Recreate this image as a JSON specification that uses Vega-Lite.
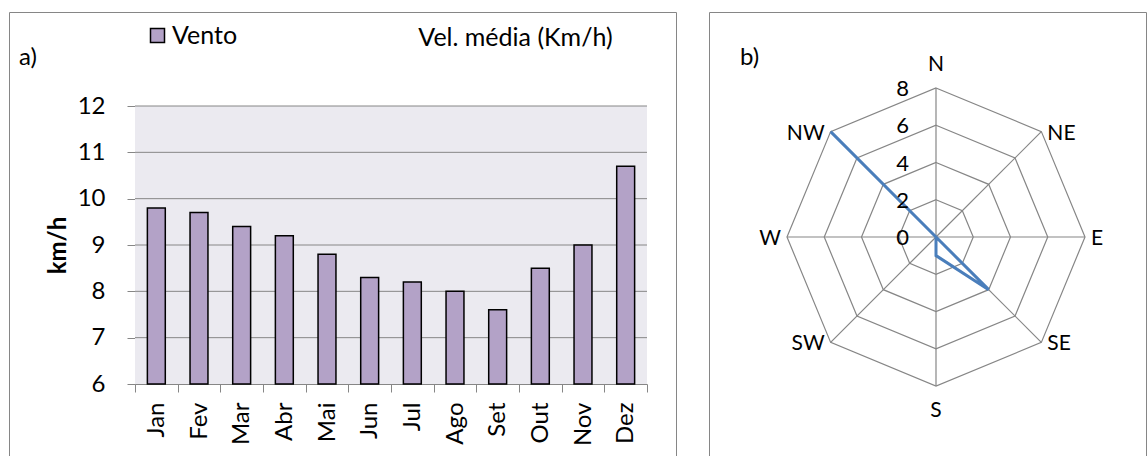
{
  "$schema": "https://vega.github.io/schema/vega-lite/v6.json",
  "padding": {"left": -4, "top": 11, "right": 0, "bottom": 0},
  "autosize": {"type": "pad"},
  "background": "white",
  "spacing": 33,
  "bounds": "flush",
  "config": {
    "font": "Lato",
    "view": {"stroke": "#868686", "strokeWidth": 1},
    "axis": {
      "labelFont": "Lato", "titleFont": "Lato",
      "labelColor": "#000", "titleColor": "#000",
      "labelFontSize": 24, "titleFontSize": 24,
      "domainColor": "#868686", "tickColor": "#868686", "gridColor": "#868686",
      "domainWidth": 1, "tickWidth": 1
    },
    "title": {"font": "Lato", "fontSize": 24, "fontWeight": "normal", "color": "#000"},
    "text": {"font": "Lato", "fontSize": 21, "color": "#000"}
  },
  "datasets": {
    "vento": [
      {"mes": "Jan", "vel": 9.8},
      {"mes": "Fev", "vel": 9.7},
      {"mes": "Mar", "vel": 9.4},
      {"mes": "Abr", "vel": 9.2},
      {"mes": "Mai", "vel": 8.8},
      {"mes": "Jun", "vel": 8.3},
      {"mes": "Jul", "vel": 8.2},
      {"mes": "Ago", "vel": 8.0},
      {"mes": "Set", "vel": 7.6},
      {"mes": "Out", "vel": 8.5},
      {"mes": "Nov", "vel": 9.0},
      {"mes": "Dez", "vel": 10.7}
    ],
    "linhas": [{"nivel": 7}, {"nivel": 8}, {"nivel": 9}, {"nivel": 10}, {"nivel": 11}, {"nivel": 12}],
    "rosa": [
      {"dir": "N", "graus": 0, "v": 0},
      {"dir": "NE", "graus": 45, "v": 0},
      {"dir": "E", "graus": 90, "v": 0},
      {"dir": "SE", "graus": 135, "v": 4},
      {"dir": "S", "graus": 180, "v": 1},
      {"dir": "SW", "graus": 225, "v": 0},
      {"dir": "W", "graus": 270, "v": 0},
      {"dir": "NW", "graus": 315, "v": 8}
    ],
    "grade": [
      {"dir": "N", "graus": 0, "nivel": [2, 4, 6, 8]},
      {"dir": "NE", "graus": 45, "nivel": [2, 4, 6, 8]},
      {"dir": "E", "graus": 90, "nivel": [2, 4, 6, 8]},
      {"dir": "SE", "graus": 135, "nivel": [2, 4, 6, 8]},
      {"dir": "S", "graus": 180, "nivel": [2, 4, 6, 8]},
      {"dir": "SW", "graus": 225, "nivel": [2, 4, 6, 8]},
      {"dir": "W", "graus": 270, "nivel": [2, 4, 6, 8]},
      {"dir": "NW", "graus": 315, "nivel": [2, 4, 6, 8]}
    ],
    "escala": [{"nivel": 0}, {"nivel": 2}, {"nivel": 4}, {"nivel": 6}, {"nivel": 8}]
  },
  "hconcat": [
    {
      "width": 667,
      "height": 444,
      "title": {"text": "a)", "anchor": "start", "frame": "group", "offset": 0, "baseline": "middle", "dx": 10, "dy": 70},
      "resolve": {"scale": {"x": "independent"}, "axis": {"x": "independent"}},
      "layer": [
        {
          "data": {"values": [{"area": "plot"}]},
          "mark": {"type": "rect", "fill": "#EBEAF0"},
          "encoding": {
            "x": {"datum": 0, "type": "quantitative", "scale": {"domain": [0, 1], "range": [126, 638]}, "axis": null},
            "x2": {"datum": 1},
            "y": {"datum": 12, "type": "quantitative"},
            "y2": {"datum": 6}
          }
        },
        {
          "data": {"name": "linhas"},
          "mark": {"type": "rule", "stroke": "#868686", "strokeWidth": 1},
          "encoding": {
            "x": {"datum": 0, "type": "quantitative", "scale": {"domain": [0, 1], "range": [126, 638]}, "axis": null},
            "x2": {"datum": 1},
            "y": {"field": "nivel", "type": "quantitative"}
          }
        },
        {
          "data": {"name": "vento"},
          "mark": {"type": "bar", "width": {"band": 0.42}, "stroke": "#000", "strokeWidth": 1.5},
          "encoding": {
            "x": {
              "field": "mes", "type": "nominal", "sort": null,
              "scale": {"range": [126, 638], "paddingInner": 0, "paddingOuter": 0},
              "axis": {
                "orient": "bottom", "offset": -72,
                "tickBand": "extent", "tickSize": 8,
                "labelAngle": -90, "labelPadding": 10,
                "title": "Vel. média (Km/h)", "titleFontSize": 25,
                "titleX": 506, "titleY": -339, "titleAngle": 0,
                "titleAlign": "center", "titleBaseline": "alphabetic",
                "titleFontWeight": "normal"
              }
            },
            "y": {
              "field": "vel", "type": "quantitative",
              "scale": {"domain": [6, 12], "range": [372, 94], "zero": false, "nice": false},
              "axis": {
                "orient": "left", "offset": -126,
                "values": [6, 7, 8, 9, 10, 11, 12], "format": "d",
                "grid": false, "tickSize": 8, "labelPadding": 22,
                "title": "km/h", "titleFontWeight": "bold",
                "titleX": -77, "titleY": 233, "titleAngle": -90,
                "titleAlign": "center", "titleBaseline": "middle"
              }
            },
            "y2": {"datum": 6},
            "color": {
              "datum": "Vento", "type": "nominal",
              "scale": {"range": ["#B3A2C7"]},
              "legend": {
                "orient": "none", "legendX": 136, "legendY": 11,
                "title": null, "padding": 0,
                "symbolType": "square", "symbolSize": 196,
                "symbolStrokeColor": "#000", "symbolStrokeWidth": 1.5,
                "symbolOpacity": 1,
                "labelFont": "Lato", "labelFontSize": 25, "labelColor": "#000",
                "labelOffset": 2
              }
            }
          }
        }
      ]
    },
    {
      "width": 437,
      "height": 444,
      "title": {"text": "b)", "anchor": "start", "frame": "group", "offset": 0, "baseline": "middle", "dx": 31, "dy": 70},
      "layer": [
        {
          "data": {"name": "grade"},
          "transform": [
            {"flatten": ["nivel"]},
            {"calculate": "datum.nivel * sin(datum.graus * PI / 180)", "as": "gx"},
            {"calculate": "datum.nivel * cos(datum.graus * PI / 180)", "as": "gy"}
          ],
          "mark": {"type": "line", "interpolate": "linear-closed", "stroke": "#868686", "strokeWidth": 1.2},
          "encoding": {
            "x": {"field": "gx", "type": "quantitative", "scale": {"domain": [-8, 8], "range": [78, 376], "nice": false, "zero": false}, "axis": null},
            "y": {"field": "gy", "type": "quantitative", "scale": {"domain": [-8, 8], "range": [374, 76], "nice": false, "zero": false}, "axis": null},
            "detail": {"field": "nivel", "type": "nominal"},
            "order": {"field": "graus", "type": "quantitative"}
          }
        },
        {
          "data": {"name": "rosa"},
          "transform": [
            {"calculate": "8 * sin(datum.graus * PI / 180)", "as": "ex"},
            {"calculate": "8 * cos(datum.graus * PI / 180)", "as": "ey"}
          ],
          "mark": {"type": "rule", "stroke": "#868686", "strokeWidth": 1.2},
          "encoding": {
            "x": {"field": "ex", "type": "quantitative", "axis": null},
            "y": {"field": "ey", "type": "quantitative", "axis": null},
            "x2": {"datum": 0},
            "y2": {"datum": 0}
          }
        },
        {
          "data": {"name": "rosa"},
          "transform": [
            {"calculate": "datum.v * sin(datum.graus * PI / 180)", "as": "px"},
            {"calculate": "datum.v * cos(datum.graus * PI / 180)", "as": "py"}
          ],
          "mark": {"type": "line", "interpolate": "linear-closed", "stroke": "#4A7EBB", "strokeWidth": 3},
          "encoding": {
            "x": {"field": "px", "type": "quantitative", "axis": null},
            "y": {"field": "py", "type": "quantitative", "axis": null},
            "order": {"field": "graus", "type": "quantitative"}
          }
        },
        {
          "data": {"name": "escala"},
          "mark": {"type": "text", "align": "right", "baseline": "middle", "dx": -27, "dy": 1, "fontSize": 22},
          "encoding": {
            "x": {"datum": 0, "type": "quantitative", "axis": null},
            "y": {"field": "nivel", "type": "quantitative", "axis": null},
            "text": {"field": "nivel", "type": "quantitative"}
          }
        },
        {
          "data": {"name": "rosa"},
          "transform": [
            {"filter": "datum.dir === 'N'"},
            {"calculate": "8 * sin(datum.graus * PI / 180)", "as": "ex"},
            {"calculate": "8 * cos(datum.graus * PI / 180)", "as": "ey"}
          ],
          "mark": {"type": "text", "align": "center", "baseline": "middle", "dy": -23},
          "encoding": {
            "x": {"field": "ex", "type": "quantitative", "axis": null},
            "y": {"field": "ey", "type": "quantitative", "axis": null},
            "text": {"field": "dir"}
          }
        },
        {
          "data": {"name": "rosa"},
          "transform": [
            {"filter": "datum.dir === 'S'"},
            {"calculate": "8 * sin(datum.graus * PI / 180)", "as": "ex"},
            {"calculate": "8 * cos(datum.graus * PI / 180)", "as": "ey"}
          ],
          "mark": {"type": "text", "align": "center", "baseline": "middle", "dy": 25},
          "encoding": {
            "x": {"field": "ex", "type": "quantitative", "axis": null},
            "y": {"field": "ey", "type": "quantitative", "axis": null},
            "text": {"field": "dir"}
          }
        },
        {
          "data": {"name": "rosa"},
          "transform": [
            {"filter": "datum.dir === 'NE' || datum.dir === 'E' || datum.dir === 'SE'"},
            {"calculate": "8 * sin(datum.graus * PI / 180)", "as": "ex"},
            {"calculate": "8 * cos(datum.graus * PI / 180)", "as": "ey"}
          ],
          "mark": {"type": "text", "align": "left", "baseline": "middle", "dx": 6, "dy": 2},
          "encoding": {
            "x": {"field": "ex", "type": "quantitative", "axis": null},
            "y": {"field": "ey", "type": "quantitative", "axis": null},
            "text": {"field": "dir"}
          }
        },
        {
          "data": {"name": "rosa"},
          "transform": [
            {"filter": "datum.dir === 'NW' || datum.dir === 'W' || datum.dir === 'SW'"},
            {"calculate": "8 * sin(datum.graus * PI / 180)", "as": "ex"},
            {"calculate": "8 * cos(datum.graus * PI / 180)", "as": "ey"}
          ],
          "mark": {"type": "text", "align": "right", "baseline": "middle", "dx": -6, "dy": 2},
          "encoding": {
            "x": {"field": "ex", "type": "quantitative", "axis": null},
            "y": {"field": "ey", "type": "quantitative", "axis": null},
            "text": {"field": "dir"}
          }
        }
      ]
    }
  ]
}
